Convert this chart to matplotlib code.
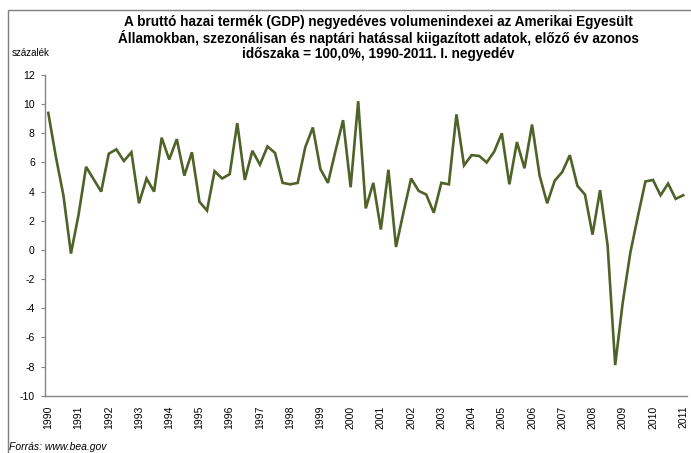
import matplotlib
matplotlib.use("Agg")
import matplotlib.pyplot as plt
from matplotlib.patches import Rectangle

plt.rcParams['font.family'] = ['Liberation Sans', 'DejaVu Sans']

# --- Data: quarterly GDP volume index, same period of previous year = 100 % ---
years = list(range(1990, 2012))
gdp_change = [
    9.4, 6.4, 3.75, -0.25,     # 1990
    2.4, 5.7, 4.85, 4.0,       # 1991
    6.6, 6.9, 6.1, 6.7,        # 1992
    3.2, 4.9, 4.0, 7.7,        # 1993
    6.2, 7.6, 5.1, 6.7,        # 1994
    3.3, 2.7, 5.4, 4.9,        # 1995
    5.2, 8.7, 4.8, 6.8,        # 1996
    5.85, 7.1, 6.65, 4.6,      # 1997
    4.5, 4.6, 7.05, 8.4,       # 1998
    5.55, 4.6, 6.8, 8.9,       # 1999
    4.3, 10.2, 2.85, 4.6,      # 2000
    1.4, 5.5, 0.2, 2.6,        # 2001
    4.9, 4.05, 3.8, 2.55,      # 2002
    4.6, 4.5, 9.3, 5.8,        # 2003
    6.5, 6.45, 6.0, 6.75,      # 2004
    8.0, 4.5, 7.4, 5.6,        # 2005
    8.6, 5.1, 3.2, 4.75,       # 2006
    5.35, 6.5, 4.4, 3.8,       # 2007
    1.05, 4.1, 0.3, -7.9,      # 2008
    -3.6, -0.2, 2.3, 4.7,      # 2009
    4.8, 3.75, 4.55, 3.5,      # 2010
    3.75,                      # 2011 Q1
]
y_ticks = list(range(-10, 13, 2))

W, H = 691, 453
fig = plt.figure(figsize=(W / 100, H / 100), dpi=100)

# outer chart frame (runs off the right and bottom edges)
fig.patches.append(Rectangle((8 / W, -0.05), 1.2, 1 - 10 / H + 0.05,
                             transform=fig.transFigure, fill=False,
                             edgecolor='#7f7f7f', linewidth=1.0))

ax = fig.add_axes([44.5 / W, 1 - 395.7 / H, (687 - 44.5) / W, (395.7 - 75) / H])

x = list(range(len(gdp_change)))
ax.plot(x, gdp_change, color='#4F6228', linewidth=1.9, solid_joinstyle='miter')

ax.set_xlim(-0.5, len(gdp_change) - 0.5)
ax.set_ylim(-10, 12)
ax.set_yticks(y_ticks)
ax.set_yticklabels([str(v) for v in y_ticks], fontsize=7.5)
ax.set_xticks([4 * i for i in range(len(years))])
ax.set_xticklabels([str(y) for y in years], rotation=90, fontsize=7.5)
ax.tick_params(axis='x', length=0, pad=7)
ax.tick_params(axis='y', length=3, width=0.8, color='#868686', pad=4)

for side in ['top', 'right']:
    ax.spines[side].set_visible(False)
for side in ['left', 'bottom']:
    ax.spines[side].set_color('#868686')
    ax.spines[side].set_linewidth(1.0)

fig.text(378 / W, 1 - 15 / H,
         "A bruttó hazai termék (GDP) negyedéves volumenindexei az Amerikai Egyesült\n"
         "Államokban, szezonálisan és naptári hatással kiigazított adatok, előző év azonos\n"
         "időszaka = 100,0%, 1990-2011. I. negyedév",
         ha='center', va='top', fontsize=9.8, fontweight='bold', linespacing=1.1)
fig.text(12 / W, 1 - 53 / H, "százalék", ha='left', va='center', fontsize=7)
fig.text(9 / W, 1 - 447 / H, "Forrás: www.bea.gov", ha='left', va='center',
         fontsize=7.5, style='italic')

fig.savefig('out.png', dpi=100)
